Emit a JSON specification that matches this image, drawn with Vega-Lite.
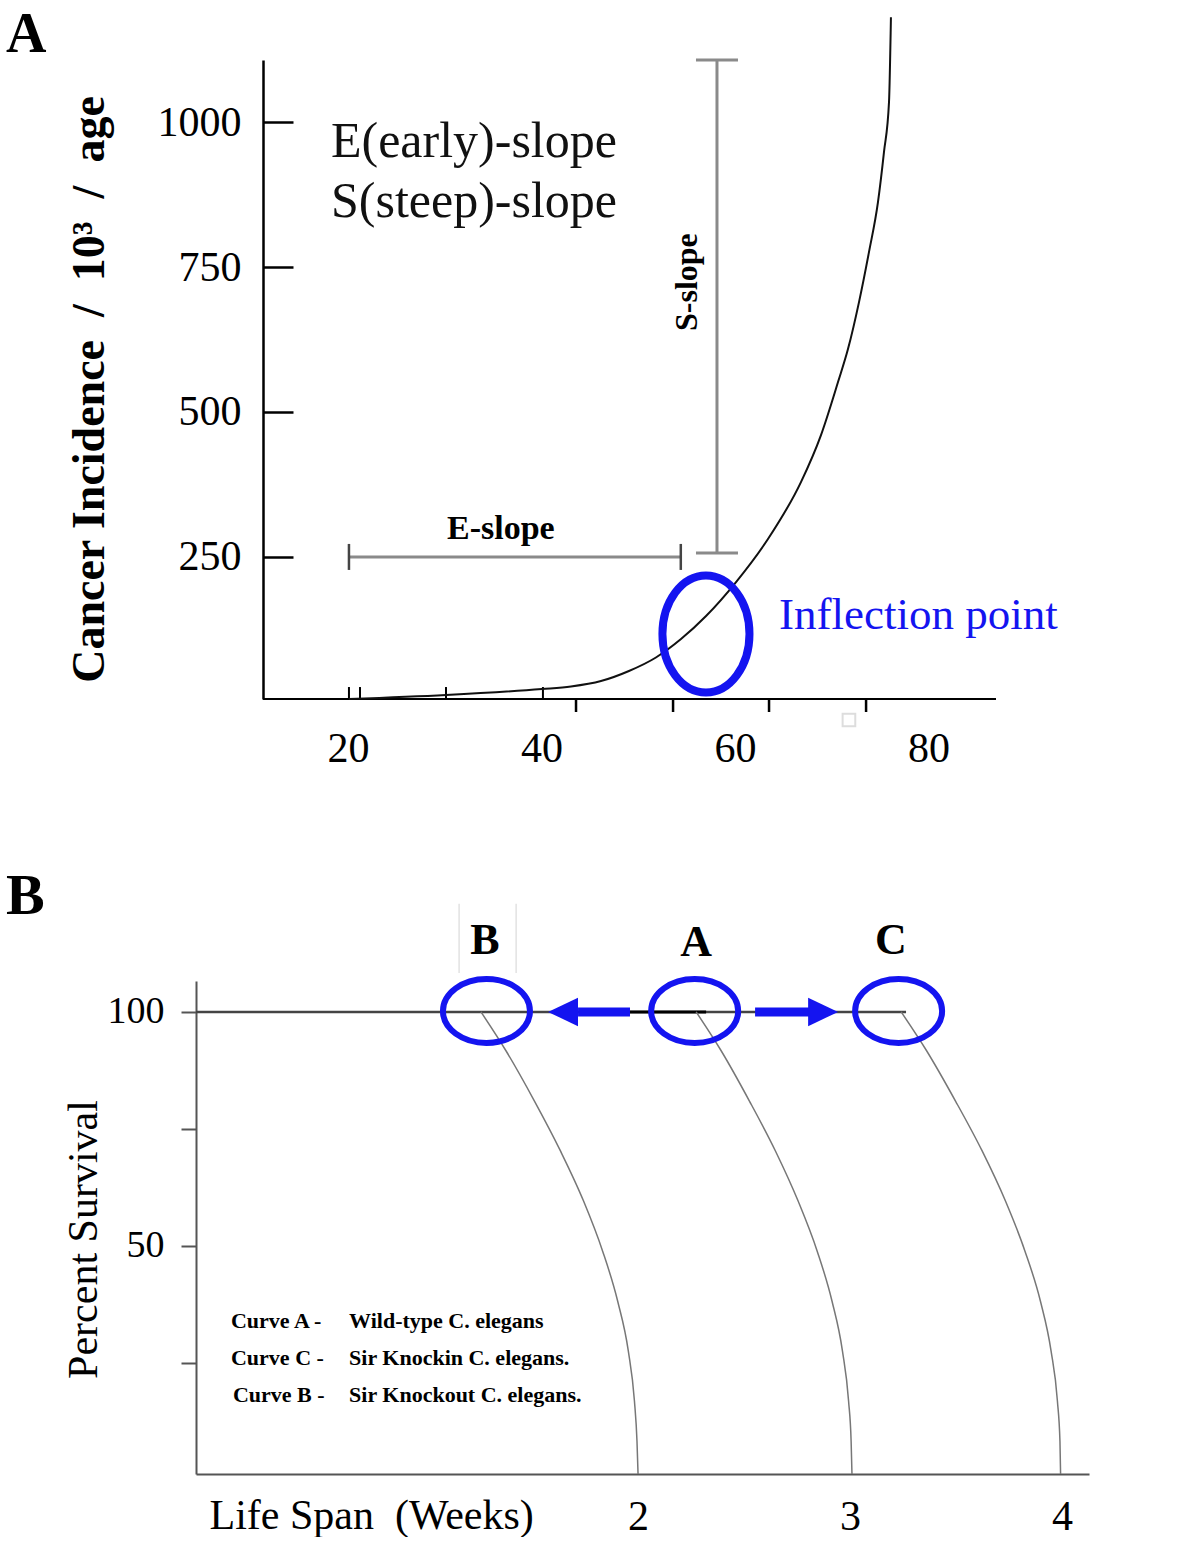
{
  "$schema": "https://vega.github.io/schema/vega-lite/v6.json",
  "padding": {"left": 5, "top": 6, "right": 5, "bottom": 0},
  "spacing": 99,
  "background": "white",
  "config": {
    "view": {"stroke": null},
    "font": "Liberation Serif",
    "axis": {"labelColor": "#000", "titleColor": "#000", "grid": false, "labelOverlap": false, "labelFlush": false}
  },
  "vconcat": [
    {
      "width": 800,
      "height": 639,
      "encoding": {
        "x": {"field": "x", "type": "quantitative",
          "scale": {"domain": [4.29, 86.98], "nice": false, "zero": false},
          "axis": {"values": [20, 40, 60, 80], "domain": false, "ticks": false, "tickSize": 0,
            "labelFontSize": 42, "labelPadding": 29, "title": null}},
        "y": {"field": "y", "type": "quantitative",
          "scale": {"domain": [5, 1107], "nice": false, "zero": false},
          "axis": {"values": [250, 500, 750, 1000], "format": "d", "offset": -67,
            "domainColor": "#000", "domainWidth": 2.5, "tickColor": "#000", "tickWidth": 2.5, "tickSize": -30,
            "labelPadding": 52, "labelFontSize": 42,
            "title": "Cancer Incidence \u00a0/\u00a0 10³ \u00a0/\u00a0 age", "titleFontSize": 46, "titleFontWeight": "bold",
            "titlePadding": 44, "titleY": 329}}
      },
      "layer": [
        {
          "data": {"values": [{"x": 11.22, "x2": 86.98, "y": 5}]},
          "mark": {"type": "rule", "color": "#000", "strokeWidth": 2},
          "encoding": {"x2": {"field": "x2"}}
        },
        {
          "data": {"values": [{"x": 43.57, "y": -6.2}, {"x": 53.6, "y": -6.2}, {"x": 63.52, "y": -6.2}, {"x": 73.55, "y": -6.2}]},
          "mark": {"type": "point", "shape": "M0,-1 L0,1", "size": 169, "filled": false, "stroke": "#000", "strokeWidth": 2.5, "opacity": 1}
        },
        {
          "data": {"values": [{"x": 20.1, "y": 15.3}, {"x": 21.24, "y": 15.3}, {"x": 30.13, "y": 15.3}, {"x": 40.15, "y": 15.3}]},
          "mark": {"type": "point", "shape": "M0,-1 L0,1", "size": 144, "filled": false, "stroke": "#000", "strokeWidth": 2, "opacity": 1}
        },
        {
          "data": {"values": [{"x": 71.78, "y": -31.2}]},
          "mark": {"type": "point", "shape": "square", "size": 160, "stroke": "#dddddd", "strokeWidth": 2, "filled": false, "opacity": 1}
        },
        {
          "data": {"values": [{"x": 20.1, "x2": 54.4, "y": 250}]},
          "mark": {"type": "rule", "color": "#8a8a8a", "strokeWidth": 3},
          "encoding": {"x2": {"field": "x2"}}
        },
        {
          "data": {"values": [{"x": 20.1, "y": 250}, {"x": 54.4, "y": 250}]},
          "mark": {"type": "point", "shape": "M0,-1 L0,1", "size": 676, "filled": false, "stroke": "#444", "strokeWidth": 2.5, "opacity": 1}
        },
        {
          "data": {"values": [{"x": 58.14, "y": 257, "y2": 1107}]},
          "mark": {"type": "rule", "color": "#8a8a8a", "strokeWidth": 3},
          "encoding": {"y2": {"field": "y2"}}
        },
        {
          "data": {"values": [{"x": 58.14, "y": 257}, {"x": 58.14, "y": 1107}]},
          "mark": {"type": "point", "shape": "M-1,0 L1,0", "size": 1764, "filled": false, "stroke": "#8a8a8a", "strokeWidth": 3, "opacity": 1}
        },
        {
          "data": {"values": [
            {"x": 20.1, "y": 5.0}, {"x": 30.13, "y": 11.9}, {"x": 40.05, "y": 22.2}, {"x": 43.05, "y": 26.6},
            {"x": 46.15, "y": 36.0}, {"x": 49.04, "y": 53.3}, {"x": 51.83, "y": 76.6}, {"x": 54.42, "y": 108.4},
            {"x": 57.01, "y": 148.1}, {"x": 60.11, "y": 206.7}, {"x": 63.41, "y": 280.9}, {"x": 66.82, "y": 379.1},
            {"x": 68.89, "y": 460.2}, {"x": 70.65, "y": 551.6}, {"x": 71.68, "y": 608.4}, {"x": 72.82, "y": 689.5},
            {"x": 73.85, "y": 775.7}, {"x": 74.78, "y": 861.9}, {"x": 75.4, "y": 948.1}, {"x": 75.92, "y": 1034.3},
            {"x": 76.12, "y": 1180.9}
          ]},
          "mark": {"type": "line", "color": "#111", "strokeWidth": 2, "interpolate": "monotone"}
        },
        {
          "data": {"values": [{"x": 57.0, "y": 117.1}]},
          "mark": {"type": "point", "shape": "M-0.744,0 A0.744,1 0 1,0 0.744,0 A0.744,1 0 1,0 -0.744,0 Z",
            "size": 13689, "filled": false, "stroke": "#1414f0", "strokeWidth": 8, "opacity": 1}
        },
        {
          "data": {"values": [{"x": 35.8, "y": 298, "t": "E-slope"}]},
          "mark": {"type": "text", "fontSize": 34, "fontWeight": "bold", "align": "center", "baseline": "middle"},
          "encoding": {"text": {"field": "t"}}
        },
        {
          "data": {"values": [{"x": 55.04, "y": 724, "t": "S-slope"}]},
          "mark": {"type": "text", "fontSize": 32, "fontWeight": "bold", "align": "center", "baseline": "middle", "angle": 270},
          "encoding": {"text": {"field": "t"}}
        },
        {
          "data": {"values": [{"x": 18.24, "y": 965.3, "t": "E(early)-slope"}, {"x": 18.24, "y": 861.9, "t": "S(steep)-slope"}]},
          "mark": {"type": "text", "fontSize": 50, "align": "left", "baseline": "middle", "color": "#111"},
          "encoding": {"text": {"field": "t"}}
        },
        {
          "data": {"values": [{"x": 64.55, "y": 149.8, "t": "Inflection point"}]},
          "mark": {"type": "text", "fontSize": 45, "align": "left", "baseline": "middle", "color": "#1414f0"},
          "encoding": {"text": {"field": "t"}}
        },
        {
          "data": {"values": [{"x": -15.35, "y": 1196.7, "t": "A"}]},
          "mark": {"type": "text", "fontSize": 56, "fontWeight": "bold", "align": "left", "baseline": "top"},
          "encoding": {"text": {"field": "t"}}
        }
      ]
    },
    {
      "width": 893,
      "height": 493,
      "encoding": {
        "x": {"field": "x", "type": "quantitative",
          "scale": {"domain": [-0.085, 4.127], "nice": false, "zero": false},
          "axis": {"values": [2, 3, 4], "domainColor": "#555", "domainWidth": 2, "ticks": false, "tickSize": 0,
            "labelFontSize": 42, "labelPadding": 22, "labelDx": -6,
            "title": "Life Span \u00a0(Weeks)", "titleFontSize": 42, "titleFontWeight": "normal",
            "titleAnchor": "start", "titleAlign": "left", "titleBaseline": "alphabetic", "titleX": 13, "titleY": 54}},
        "y": {"field": "y", "type": "quantitative",
          "scale": {"domain": [1.3, 106.6], "nice": false, "zero": false},
          "axis": {"values": [25, 50, 75, 100],
            "labelExpr": "datum.value == 50 || datum.value == 100 ? datum.label : ''",
            "domainColor": "#555", "domainWidth": 2, "tickColor": "#555", "tickWidth": 2, "tickSize": 15,
            "labelPadding": 17, "labelFontSize": 38,
            "title": "Percent Survival", "titleFontSize": 42, "titleFontWeight": "normal",
            "titlePadding": 2, "titleY": 258}}
      },
      "layer": [
        {
          "data": {"values": [{"x": 1.156, "y": 123.1, "y2": 108.3}, {"x": 1.425, "y": 123.1, "y2": 108.3}]},
          "mark": {"type": "rule", "color": "#e2e2e2", "strokeWidth": 1.5},
          "encoding": {"y2": {"field": "y2"}}
        },
        {
          "data": {"values": [{"x": -0.085, "x2": 3.264, "y": 100}]},
          "mark": {"type": "rule", "color": "#444", "strokeWidth": 2.5},
          "encoding": {"x2": {"field": "x2"}}
        },
        {
          "data": {"values": [{"x": 1.962, "x2": 2.321, "y": 100}]},
          "mark": {"type": "rule", "color": "#000", "strokeWidth": 3},
          "encoding": {"x2": {"field": "x2"}}
        },
        {
          "data": {"values": [
            {"c": "B", "x": 1.259, "y": 100}, {"c": "B", "x": 1.377, "y": 91.7}, {"c": "B", "x": 1.512, "y": 80.9},
            {"c": "B", "x": 1.634, "y": 70.3}, {"c": "B", "x": 1.743, "y": 59.6}, {"c": "B", "x": 1.833, "y": 48.9},
            {"c": "B", "x": 1.904, "y": 38.2}, {"c": "B", "x": 1.954, "y": 27.6}, {"c": "B", "x": 1.983, "y": 16.9},
            {"c": "B", "x": 1.995, "y": 8.3}, {"c": "B", "x": 2.0, "y": 1.3},
            {"c": "A", "x": 2.274, "y": 100}, {"c": "A", "x": 2.392, "y": 91.7}, {"c": "A", "x": 2.526, "y": 80.9},
            {"c": "A", "x": 2.648, "y": 70.3}, {"c": "A", "x": 2.755, "y": 59.6}, {"c": "A", "x": 2.845, "y": 48.9},
            {"c": "A", "x": 2.915, "y": 38.2}, {"c": "A", "x": 2.964, "y": 27.6}, {"c": "A", "x": 2.993, "y": 16.9},
            {"c": "A", "x": 3.005, "y": 8.3}, {"c": "A", "x": 3.009, "y": 1.3},
            {"c": "C", "x": 3.241, "y": 100}, {"c": "C", "x": 3.361, "y": 91.7}, {"c": "C", "x": 3.498, "y": 80.9},
            {"c": "C", "x": 3.623, "y": 70.3}, {"c": "C", "x": 3.733, "y": 59.6}, {"c": "C", "x": 3.825, "y": 48.9},
            {"c": "C", "x": 3.898, "y": 38.2}, {"c": "C", "x": 3.948, "y": 27.6}, {"c": "C", "x": 3.978, "y": 16.9},
            {"c": "C", "x": 3.99, "y": 8.3}, {"c": "C", "x": 3.993, "y": 1.3}
          ]},
          "mark": {"type": "line", "color": "#777", "strokeWidth": 1.5, "interpolate": "monotone"},
          "encoding": {"detail": {"field": "c"}}
        },
        {
          "data": {"values": [{"x": 1.285, "y": 100.2}, {"x": 2.267, "y": 100.2}, {"x": 3.229, "y": 100.2}]},
          "mark": {"type": "point", "shape": "M-1,0 A1,0.736 0 1,0 1,0 A1,0.736 0 1,0 -1,0 Z",
            "size": 7569, "filled": false, "stroke": "#1414f0", "strokeWidth": 6, "opacity": 1}
        },
        {
          "data": {"values": [{"x": 1.717, "x2": 1.962, "y": 100}, {"x": 2.552, "x2": 2.807, "y": 100}]},
          "mark": {"type": "rule", "color": "#1414f0", "strokeWidth": 9},
          "encoding": {"x2": {"field": "x2"}}
        },
        {
          "data": {"values": [{"x": 1.646, "y": 100}]},
          "mark": {"type": "point", "shape": "M-1,0 L1,-0.95 L1,0.95 Z", "size": 900, "filled": true, "color": "#1414f0", "opacity": 1}
        },
        {
          "data": {"values": [{"x": 2.873, "y": 100}]},
          "mark": {"type": "point", "shape": "M1,0 L-1,-0.95 L-1,0.95 Z", "size": 900, "filled": true, "color": "#1414f0", "opacity": 1}
        },
        {
          "data": {"values": [{"x": 1.278, "y": 115.2, "t": "B"}, {"x": 2.274, "y": 114.8, "t": "A"}, {"x": 3.193, "y": 115.2, "t": "C"}]},
          "mark": {"type": "text", "fontSize": 44, "fontWeight": "bold", "align": "center", "baseline": "middle"},
          "encoding": {"text": {"field": "t"}}
        },
        {
          "data": {"values": [
            {"x": 0.08, "y": 34.0, "t": "Curve A -"}, {"x": 0.08, "y": 26.0, "t": "Curve C -"}, {"x": 0.089, "y": 18.1, "t": "Curve B -"},
            {"x": 0.637, "y": 34.0, "t": "Wild-type C. elegans"}, {"x": 0.637, "y": 26.0, "t": "Sir Knockin C. elegans."}, {"x": 0.637, "y": 18.1, "t": "Sir Knockout C. elegans."}
          ]},
          "mark": {"type": "text", "fontSize": 22, "fontWeight": "bold", "align": "left", "baseline": "middle"},
          "encoding": {"text": {"field": "t"}}
        },
        {
          "data": {"values": [{"x": -0.981, "y": 130.7, "t": "B"}]},
          "mark": {"type": "text", "fontSize": 58, "fontWeight": "bold", "align": "left", "baseline": "top"},
          "encoding": {"text": {"field": "t"}}
        }
      ]
    }
  ]
}
